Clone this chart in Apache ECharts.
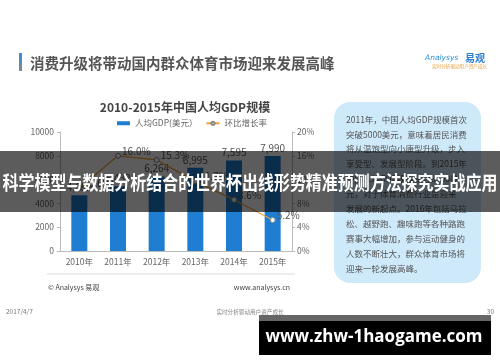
<!DOCTYPE html>
<html><head><meta charset="utf-8">
<script src="https://cdn.jsdelivr.net/npm/echarts@6/dist/echarts.min.js"></script>
<style>html,body{margin:0;padding:0;background:#fff}#c{width:500px;height:362px}</style>
</head><body><div id="c"></div>
<script>
const categories = ['2010年', '2011年', '2012年', '2013年', '2014年', '2015年'];
const gdpValues = [4682, 5432, 6264, 6995, 7595, 7990];
const growthRates = [10.6, 16.0, 15.3, 11.7, 8.6, 5.2];
const seriesNames = ['人均GDP(美元）', '环比增长率'];
const chartTitle = '2010-2015年中国人均GDP规模';
const pageTitle = '消费升级将带动国内群众体育市场迎来发展高峰';
const boxLines = [
  '2011年，中国人均GDP规模首次',
  '突破5000美元，意味着居民消费',
  '将从温饱型向小康型升级，步入',
  '享受型、发展型阶段。到2015年',
  '中国人均GDP规模接近8000美',
  '元，对于体育消费行业是迎来',
  '发展的新起点。2016年包括马拉',
  '松、越野跑、趣味跑等各种路跑',
  '赛事大幅增加，参与运动健身的',
  '人数不断壮大，群众体育市场将',
  '迎来一轮发展高峰。'
];
const bannerText = '科学模型与数据分析结合的世界杯出线形势精准预测方法探究实战应用';
const siteText = 'www.zhw-1haogame.com';

const FONT = '"Noto Sans CJK SC", "Noto Sans", sans-serif';
const chart = echarts.init(document.getElementById('c'));
chart.setOption({
  backgroundColor: '#ffffff',
  animation: false,
  textStyle: { fontFamily: FONT },
  title: {
    text: chartTitle, left: 180, top: 96, textAlign: 'center',
    textStyle: { fontSize: 12, fontWeight: 'bold', color: '#444', fontFamily: FONT }
  },
  legend: {
    left: 112, top: 114, itemGap: 8, itemWidth: 13, itemHeight: 4,
    textStyle: { fontSize: 8.5, color: '#666', fontFamily: FONT },
    data: [
      { name: seriesNames[0], icon: 'rect' },
      { name: seriesNames[1] }
    ]
  },
  grid: { left: 60, right: 208, top: 132, bottom: 111 },
  xAxis: {
    type: 'category', data: categories,
    axisLine: { lineStyle: { color: '#bbb' } },
    axisTick: { show: false },
    axisLabel: { fontSize: 8.5, color: '#666', margin: 7 }
  },
  yAxis: [
    {
      type: 'value', min: 0, max: 10000, interval: 2000,
      splitLine: { show: false },
      axisLine: { show: true, lineStyle: { color: '#bbb' } },
      axisTick: { show: true, length: 3, lineStyle: { color: '#bbb' } },
      axisLabel: { fontSize: 8.5, color: '#666', margin: 6, formatter: v => String(v) }
    },
    {
      type: 'value', min: 0, max: 20, interval: 4, position: 'right',
      splitLine: { show: false },
      axisLine: { show: true, lineStyle: { color: '#bbb' } },
      axisTick: { show: true, length: 3, lineStyle: { color: '#bbb' } },
      axisLabel: { fontSize: 8.5, color: '#666', margin: 5, formatter: v => v + '%' }
    }
  ],
  series: [
    {
      name: seriesNames[0], type: 'bar', data: gdpValues, barWidth: 16,
      itemStyle: { color: '#1f7dd2' },
      label: {
        show: true, position: 'top', distance: 3, fontSize: 10, color: '#555',
        formatter: p => p.value.toLocaleString('en-US')
      }
    },
    {
      name: seriesNames[1], type: 'line', yAxisIndex: 1, data: growthRates,
      symbol: 'circle', symbolSize: 5,
      lineStyle: { color: '#f0a22e', width: 1.2 },
      itemStyle: { color: '#fff', borderColor: '#8a8a8a', borderWidth: 1 },
      label: {
        show: true, position: 'right', distance: 1, offset: [0, -5], fontSize: 10, color: '#555',
        formatter: p => p.value.toFixed(1) + '%'
      },
      z: 3
    }
  ],
  graphic: [
    { type: 'rect', shape: { x: 19, y: 53, width: 3, height: 18 },
      style: { fill: new echarts.graphic.LinearGradient(0, 0, 0, 1, [{ offset: 0, color: '#2f8fe0' }, { offset: 1, color: '#888' }]) } },
    { type: 'text', x: 30, y: 63, style: { text: pageTitle, fontSize: 14.5, fontWeight: 'bold', fill: '#555', fontFamily: FONT, textVerticalAlign: 'middle' } },
    { type: 'text', x: 425, y: 58, style: { text: 'Analysys', fontSize: 7.5, fontStyle: 'italic', fill: '#2d8fd8', fontFamily: '"DejaVu Sans", sans-serif', textVerticalAlign: 'middle' } },
    { type: 'text', x: 465, y: 58, style: { text: '易观', fontSize: 10, fontWeight: 'bold', fill: '#2d7fd0', fontFamily: FONT, textVerticalAlign: 'middle' } },
    { type: 'text', x: 432, y: 66, style: { text: '实时分析驱动用户资产成长', fontSize: 4.6, fill: '#e8a040', fontFamily: FONT, textVerticalAlign: 'middle' } },
    { type: 'rect', shape: { x: 334, y: 102, width: 147, height: 181, r: 16 }, style: { fill: '#cde9fa' } },
    { type: 'text', x: 346, y: 112, style: { text: boxLines.join('\n'), fontSize: 8.5, lineHeight: 14.9, fill: '#555', fontFamily: FONT } },
    { type: 'line', shape: { x1: 47, y1: 274, x2: 295, y2: 274 }, style: { stroke: '#ddd', lineWidth: 1 } },
    { type: 'text', x: 48, y: 287, style: { text: '© Analysys 易观', fontSize: 7, fill: '#444', fontFamily: FONT, textVerticalAlign: 'middle' } },
    { type: 'text', x: 290, y: 287, style: { text: 'www.analysys.cn', fontSize: 7, fill: '#444', fontFamily: FONT, textAlign: 'right', textVerticalAlign: 'middle' } },
    { type: 'text', x: 6, y: 312, style: { text: '2017/4/7', fontSize: 6.5, fill: '#777', fontFamily: FONT, textVerticalAlign: 'middle' } },
    { type: 'text', x: 250, y: 312, style: { text: '实时分析驱动用户资产成长', fontSize: 5.6, fill: '#888', fontFamily: FONT, textAlign: 'center', textVerticalAlign: 'middle' } },
    { type: 'text', x: 494, y: 312, style: { text: '30', fontSize: 6.5, fill: '#777', fontFamily: FONT, textAlign: 'right', textVerticalAlign: 'middle' } },
    { type: 'rect', z: 100, shape: { x: 0, y: 151, width: 500, height: 61 }, style: { fill: 'rgba(0,0,0,0.64)' } },
    { type: 'text', z: 101, x: 250, y: 183, scaleX: 0.84,
      style: { text: bannerText, fontSize: 19, fontWeight: 'bold', fill: '#fff', fontFamily: FONT, textAlign: 'center', textVerticalAlign: 'middle' } },
    { type: 'rect', z: 100, shape: { x: 259, y: 315, width: 232, height: 6 }, style: { fill: '#666' } },
    { type: 'rect', z: 100, shape: { x: 259, y: 321, width: 232, height: 34 }, style: { fill: '#000' } },
    { type: 'text', z: 101, x: 374, y: 337, style: { text: siteText, fontSize: 17, fontWeight: 'bold', fill: '#fff', fontFamily: '"Open Sans", sans-serif', textAlign: 'center', textVerticalAlign: 'middle' } }
  ]
});
</script></body></html>
